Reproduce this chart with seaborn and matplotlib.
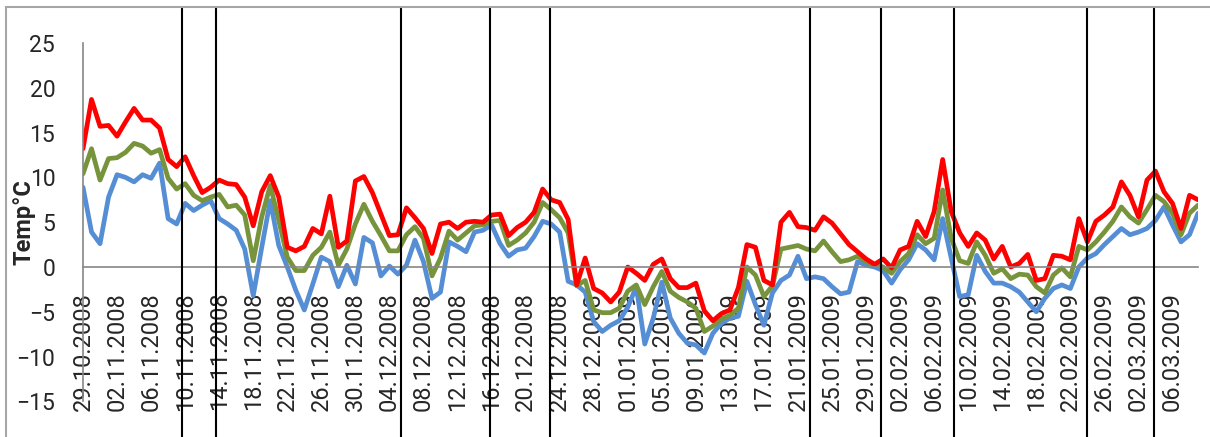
import numpy as np
import pandas as pd
import matplotlib
matplotlib.use('Agg')
import matplotlib.pyplot as plt
import seaborn as sns
from matplotlib.transforms import blended_transform_factory
from matplotlib.patches import Rectangle

# daily values 29.10.2008 - 09.03.2009
dates = pd.date_range('2008-10-29', '2009-03-09', freq='D')
date_labels = list(dates.strftime('%d.%m.%Y'))

t_max = [13.2, 18.7, 15.7, 15.8, 14.6, 16.2, 17.7, 16.4, 16.4, 15.5,
         12.0, 11.2, 12.3, 10.2, 8.3, 8.9, 9.7, 9.3, 9.2, 7.8,
         4.6, 8.4, 10.2, 7.8, 2.2, 1.8, 2.3, 4.3, 3.7, 7.9,
         2.2, 2.9, 9.6, 10.1, 8.3, 5.9, 3.5, 3.6, 6.6, 5.5,
         4.3, 1.5, 4.8, 5.0, 4.3, 5.0, 5.1, 5.0, 5.8, 5.9,
         3.5, 4.4, 5.0, 6.1, 8.7, 7.5, 7.2, 5.3, -2.0, 1.0,
         -2.4, -2.9, -3.9, -2.8, 0.0, -0.7, -1.5, 0.3, 0.9, -1.3,
         -2.3, -2.3, -1.8, -4.9, -6.0, -5.2, -4.8, -2.3, 2.5, 2.2,
         -1.5, -2.0, 5.0, 6.1, 4.5, 4.4, 4.1, 5.6, 4.9, 3.7,
         2.5, 1.7, 0.9, 0.3, 0.9, -0.1, 1.9, 2.3, 5.1, 3.4,
         6.2, 12.0, 6.2, 3.8, 2.3, 3.8, 3.0, 0.9, 2.3, 0.0,
         0.4, 1.4, -1.5, -1.3, 1.3, 1.2, 0.8, 5.4, 2.8, 5.1,
         5.8, 6.7, 9.5, 8.0, 5.6, 9.7, 10.7, 8.4, 7.1, 4.3,
         8.0, 7.5]

t_mean = [10.4, 13.2, 9.7, 12.1, 12.2, 12.8, 13.8, 13.5, 12.7, 13.1,
          9.9, 8.7, 9.3, 8.0, 7.4, 7.8, 8.1, 6.7, 6.9, 5.8,
          0.7, 5.6, 9.1, 5.2, 1.1, -0.4, -0.4, 1.3, 2.2, 3.9,
          0.2, 2.0, 4.8, 7.0, 5.1, 3.5, 1.8, 1.8, 3.6, 4.5,
          3.2, -1.0, 1.0, 4.0, 3.0, 3.8, 4.6, 4.7, 5.1, 5.2,
          2.4, 3.0, 3.8, 5.0, 7.2, 6.4, 5.5, 3.8, -2.1, -1.5,
          -4.8, -5.1, -5.1, -4.6, -2.7, -2.0, -4.2, -2.2, -0.5, -2.7,
          -3.4, -3.9, -4.6, -7.2, -6.6, -5.8, -5.4, -4.6, 0.0, -0.9,
          -3.3, -2.1, 2.0, 2.2, 2.4, 2.0, 1.8, 2.9, 1.7, 0.6,
          0.8, 1.2, 0.6, 0.3, 0.0, -0.7, 0.6, 1.5, 3.6, 2.6,
          3.2, 8.6, 3.2, 0.7, 0.4, 2.8, 1.3, -0.7, -0.2, -1.3,
          -0.8, -0.9, -2.2, -2.9, -0.9, -0.1, -1.1, 2.3, 1.9, 2.8,
          3.9, 5.1, 6.7, 5.6, 4.9, 6.4, 8.0, 7.3, 6.0, 3.6,
          6.0, 6.9]

t_min = [8.9, 3.9, 2.6, 7.8, 10.3, 10.0, 9.5, 10.3, 9.9, 11.6,
         5.4, 4.8, 7.1, 6.3, 6.9, 7.4, 5.4, 4.8, 4.1, 2.0,
         -3.2, 2.2, 7.4, 2.4, 0.0, -2.6, -4.8, -1.9, 1.1, 0.6,
         -2.2, 0.2, -1.9, 3.3, 2.7, -1.0, 0.1, -0.8, 0.2, 3.0,
         0.6, -3.5, -2.8, 2.8, 2.3, 1.7, 3.9, 4.1, 4.7, 2.6,
         1.2, 1.9, 2.1, 3.4, 5.1, 4.8, 3.9, -1.6, -2.0, -2.8,
         -6.1, -7.2, -6.5, -6.0, -4.5, -2.2, -8.6, -5.7, -1.7, -5.7,
         -7.4, -8.5, -8.7, -9.6, -7.4, -6.3, -5.7, -5.5, -1.6, -4.2,
         -6.5, -2.9, -1.5, -0.9, 1.2, -1.3, -1.1, -1.3, -2.2, -3.0,
         -2.8, 0.6, 0.2, 0.0, -0.4, -1.8, -0.3, 0.8, 2.6, 1.9,
         0.8, 5.4, 1.0, -3.3, -3.1, 1.3, -0.5, -1.8, -1.8, -2.2,
         -2.8, -3.9, -5.0, -3.5, -2.4, -2.0, -2.4, 0.0, 1.0, 1.5,
         2.5, 3.4, 4.3, 3.6, 3.9, 4.3, 5.2, 6.7, 4.7, 2.8,
         3.6, 6.0]

# hand drawn period markers (in days from 29.10.2008)
event_days = [11.67, 15.66, 37.33, 47.86, 54.91, 85.46, 93.8, 102.35, 117.98, 125.85]

day = np.arange(len(dates))
df = pd.DataFrame({'day': day, 'Tmin': t_min, 'Tmean': t_mean, 'Tmax': t_max})
df = df.melt(id_vars='day', var_name='serie', value_name='temp')

sns.set_style('white')
plt.rcParams['font.family'] = ['Roboto', 'DejaVu Sans']

fig = plt.figure(figsize=(12.1, 4.37), dpi=100)
ax = fig.add_axes([0.0686, 0.0815, 0.9215, 0.8201])

renk = {'Tmin': '#558ED5', 'Tmean': '#77933C', 'Tmax': '#FF0000'}
sns.lineplot(data=df, x='day', y='temp', hue='serie', hue_order=['Tmin', 'Tmean', 'Tmax'],
             palette=renk, linewidth=3.4, legend=False, ax=ax)

ax.set_xlim(0, len(dates) - 1)
ax.set_ylim(-15, 25)
ax.set_yticks(range(-15, 26, 5))

# eksen 0'dan geçsin
ax.spines['bottom'].set_position(('data', 0))
for s in ['top', 'right']:
    ax.spines[s].set_visible(False)
for s in ['bottom', 'left']:
    ax.spines[s].set_color('#868686')
    ax.spines[s].set_linewidth(1.2)

ax.set_xticks(day)
ax.set_xticklabels([lab if i % 4 == 0 else '' for i, lab in enumerate(date_labels)],
                   rotation=90, fontsize=17)
ax.tick_params(axis='x', length=9, width=1.2, color='#868686', direction='out', pad=9)
ax.tick_params(axis='y', length=0, pad=20, labelsize=16.5)
ax.set_xlabel('')
ax.set_ylabel('Temp°C', fontsize=17, fontweight='bold')
ax.yaxis.set_label_coords(-0.043, 0.5)

trans = blended_transform_factory(ax.transData, fig.transFigure)
for d in event_days:
    ax.plot([d, d], [0, 0.984], color='black', lw=1.5, transform=trans, clip_on=False, zorder=5)

# chart border
fig.patches.append(Rectangle((0.005, -0.02), 1.1, 1.004, transform=fig.transFigure,
                             fill=False, edgecolor='#a6a6a6', lw=1.5))

fig.savefig('out.png', dpi=100)
